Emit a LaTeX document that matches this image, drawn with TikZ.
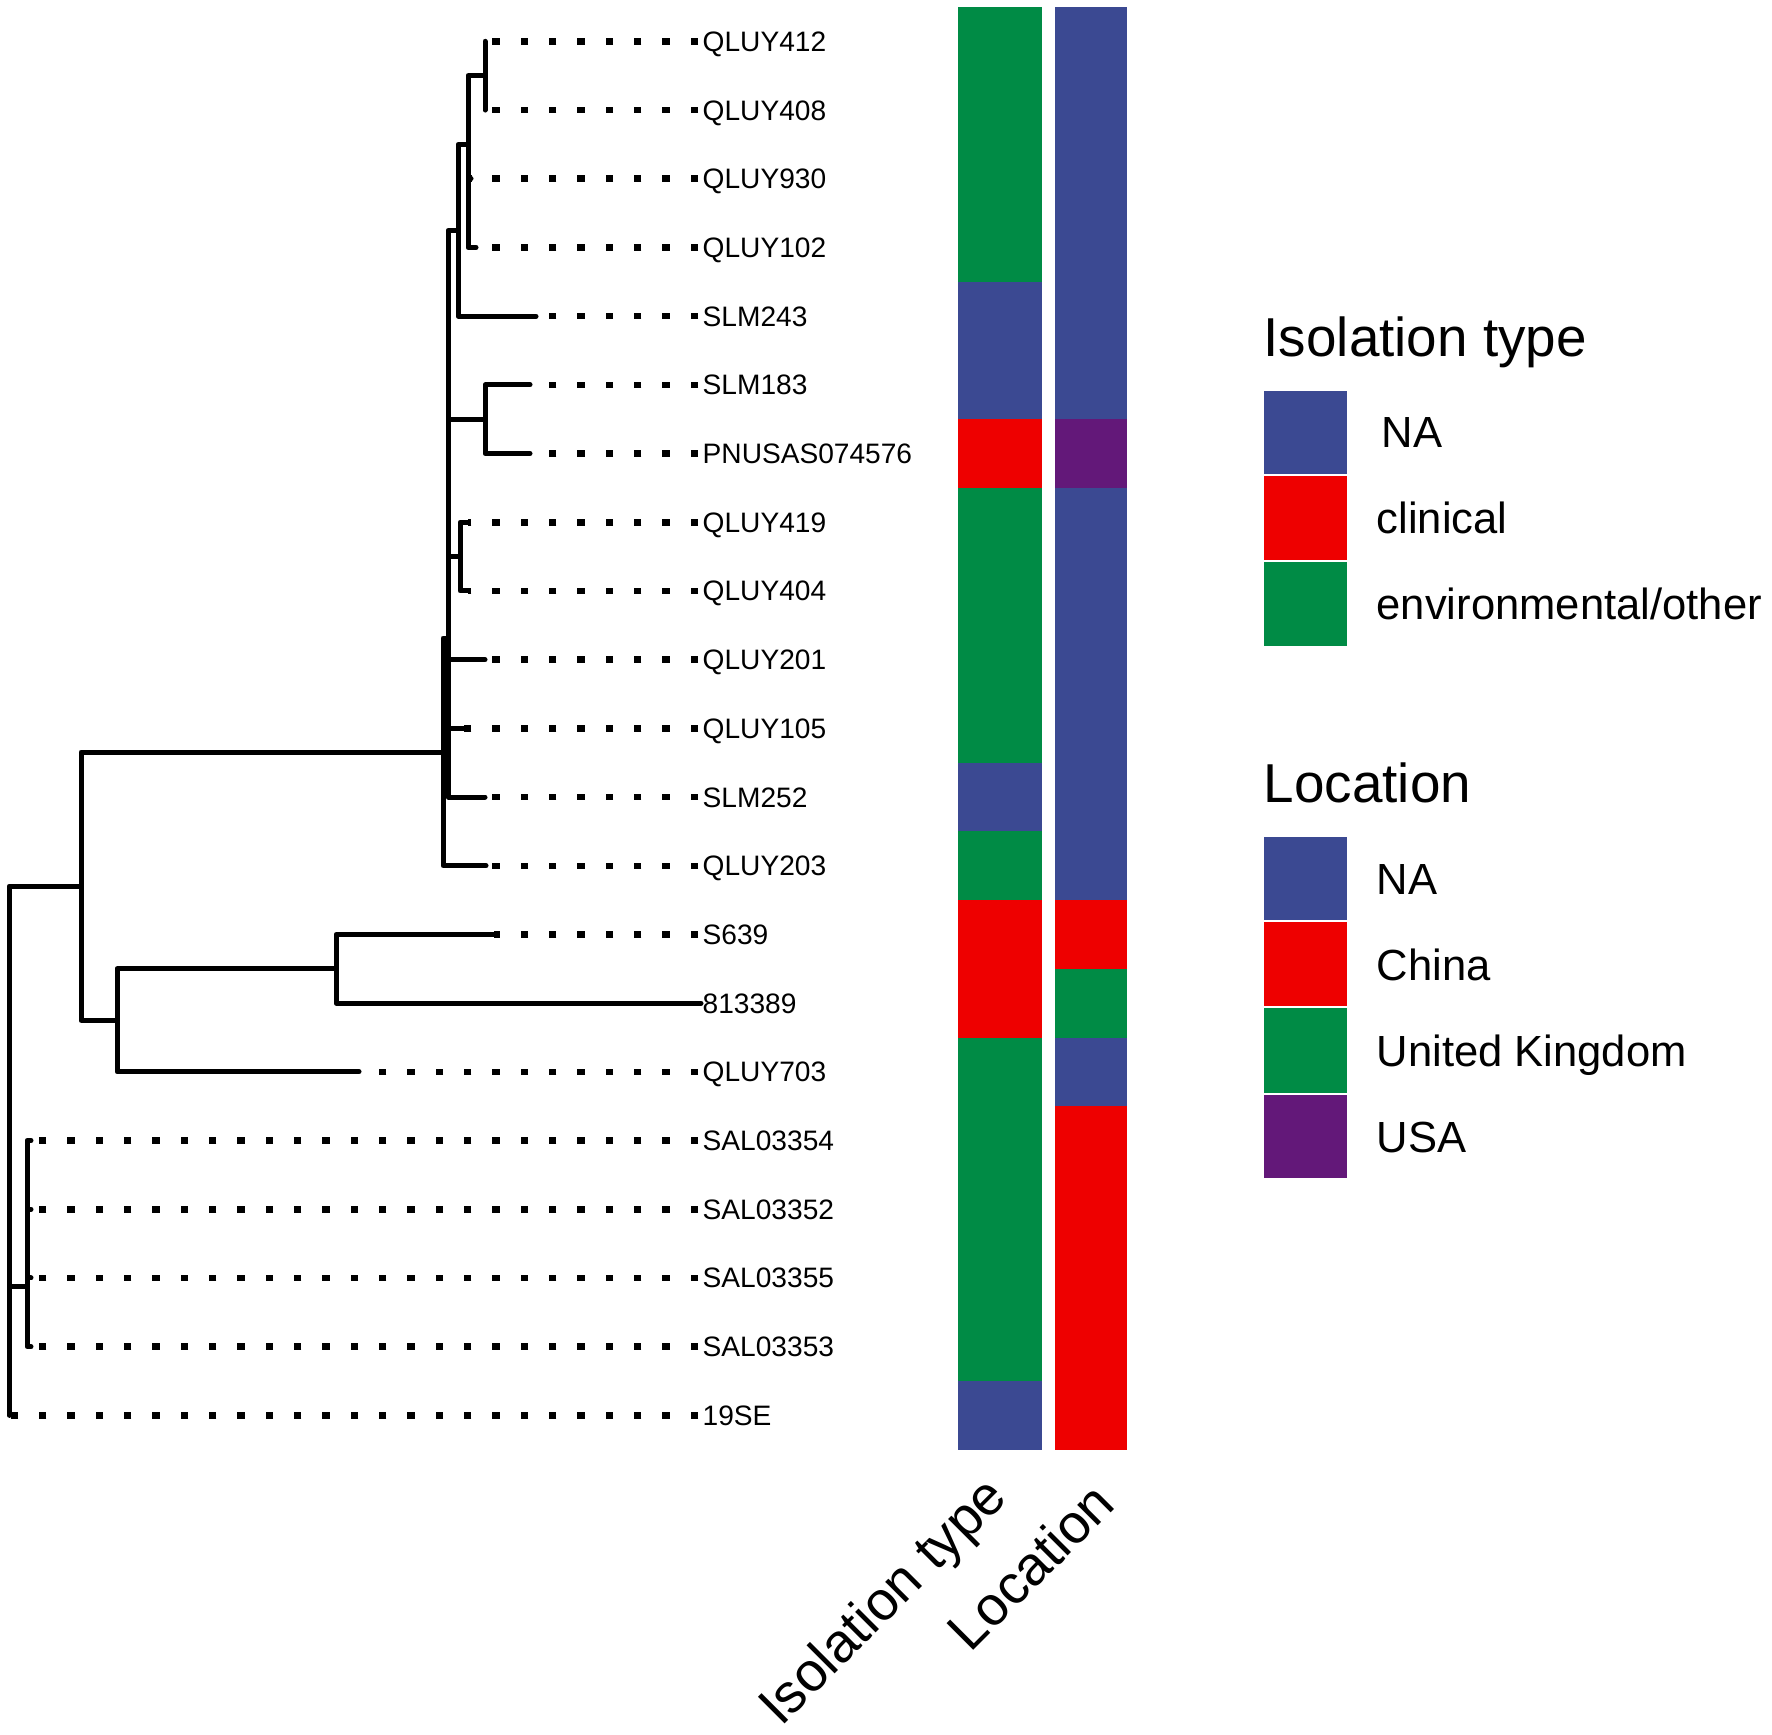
\documentclass[tikz,border=0pt]{standalone}
\usepackage{fontspec}
\setmainfont{Liberation Sans}
\usepackage{tikz}
\definecolor{aaasblue}{HTML}{3B4992}
\definecolor{aaasred}{HTML}{EE0000}
\definecolor{aaasgreen}{HTML}{008B45}
\definecolor{aaaspurple}{HTML}{631879}

\tikzset{
    branch/.style={line width=0.5mm,line cap=round,line join=round},
    guide/.style={line width=0.65mm,dash pattern=on 0.75mm off 2.083mm},
    tiplab/.style={anchor=base west,inner sep=0pt,font=\fontsize{8}{9.6}\selectfont},
    legtitle/.style={anchor=base west,inner sep=0pt,font=\fontsize{15.6}{18}\selectfont},
    leglab/.style={anchor=base west,inner sep=0pt,font=\fontsize{12.4}{15}\selectfont},
    legkey/.style={draw=white,line width=0.2mm},
    collab/.style={anchor=base east,inner sep=0pt,rotate=45,font=\fontsize{15.6}{18}\selectfont}
}

\begin{document}
\begin{tikzpicture}[x=0.1mm,y=-0.1mm]
        \useasboundingbox (0,0) rectangle (1772,1734);

        \coordinate (t1) at (485,41.35);
        \coordinate (t2) at (485,110.05);
        \coordinate (t3) at (471,178.75);
        \coordinate (t4) at (476,247.45);
        \coordinate (t5) at (536,316.15);
        \coordinate (t6) at (530,384.85);
        \coordinate (t7) at (530,453.55);
        \coordinate (t8) at (468,522.25);
        \coordinate (t9) at (468,590.95);
        \coordinate (t10) at (485,659.65);
        \coordinate (t11) at (464,728.35);
        \coordinate (t12) at (485,797.05);
        \coordinate (t13) at (486,865.75);
        \coordinate (t14) at (494,934.45);
        \coordinate (t15) at (701,1003.15);
        \coordinate (t16) at (359,1071.85);
        \coordinate (t17) at (31,1140.55);
        \coordinate (t18) at (31,1209.25);
        \coordinate (t19) at (31,1277.95);
        \coordinate (t20) at (31,1346.65);
        \coordinate (t21) at (9,1415.35);

        \coordinate (nE) at (485,75.7);
        \coordinate (nF) at (468,144.4);
        \coordinate (nH) at (458,230.3);
        \coordinate (nJ) at (485,419.2);
        \coordinate (nK) at (460,556.6);
        \coordinate (nB2) at (448,638);
        \coordinate (nB) at (443,752);
        \coordinate (nD) at (336,968.8);
        \coordinate (nC) at (117,1020.3);
        \coordinate (nA) at (81,886.2);
        \coordinate (nS) at (27,1286.5);
        \coordinate (nR) at (9,1118);

        \draw[guide] (698,41.35) -- (t1);
        \draw[guide] (698,110.05) -- (t2);
        \draw[guide] (698,178.75) -- (t3);
        \draw[guide] (698,247.45) -- (t4);
        \draw[guide] (698,316.15) -- (t5);
        \draw[guide] (698,384.85) -- (t6);
        \draw[guide] (698,453.55) -- (t7);
        \draw[guide] (698,522.25) -- (t8);
        \draw[guide] (698,590.95) -- (t9);
        \draw[guide] (698,659.65) -- (t10);
        \draw[guide] (698,728.35) -- (t11);
        \draw[guide] (698,797.05) -- (t12);
        \draw[guide] (698,865.75) -- (t13);
        \draw[guide] (698,934.45) -- (t14);
        \draw[guide] (698,1071.85) -- (t16);
        \draw[guide] (698,1140.55) -- (t17);
        \draw[guide] (698,1209.25) -- (t18);
        \draw[guide] (698,1277.95) -- (t19);
        \draw[guide] (698,1346.65) -- (t20);
        \draw[guide] (698,1415.35) -- (t21);

        \draw[branch] (nE) |- (t1);
        \draw[branch] (nE) |- (t2);
        \draw[branch] (nF) |- (nE);
        \draw[branch] (nF) |- (t3);
        \draw[branch] (nF) |- (t4);
        \draw[branch] (nH) |- (nF);
        \draw[branch] (nH) |- (t5);
        \draw[branch] (nJ) |- (t6);
        \draw[branch] (nJ) |- (t7);
        \draw[branch] (nK) |- (t8);
        \draw[branch] (nK) |- (t9);
        \draw[branch] (nB2) |- (nH);
        \draw[branch] (nB2) |- (nJ);
        \draw[branch] (nB2) |- (nK);
        \draw[branch] (nB2) |- (t10);
        \draw[branch] (nB2) |- (t11);
        \draw[branch] (nB2) |- (t12);
        \draw[branch] (nB) |- (nB2);
        \draw[branch] (nB) |- (t13);
        \draw[branch] (nD) |- (t14);
        \draw[branch] (nD) |- (t15);
        \draw[branch] (nC) |- (nD);
        \draw[branch] (nC) |- (t16);
        \draw[branch] (nA) |- (nB);
        \draw[branch] (nA) |- (nC);
        \draw[branch] (nS) |- (t17);
        \draw[branch] (nS) |- (t18);
        \draw[branch] (nS) |- (t19);
        \draw[branch] (nS) |- (t20);
        \draw[branch] (nR) |- (nA);
        \draw[branch] (nR) |- (nS);
        \draw[branch] (nR) |- (t21);

        \node[tiplab] (l1) at (702,51.35) {QLUY412};
        \node[tiplab] (l2) at (702,120.05) {QLUY408};
        \node[tiplab] (l3) at (702,188.75) {QLUY930};
        \node[tiplab] (l4) at (702,257.45) {QLUY102};
        \node[tiplab] (l5) at (702,326.15) {SLM243};
        \node[tiplab] (l6) at (702,394.85) {SLM183};
        \node[tiplab] (l7) at (702,463.55) {PNUSAS074576};
        \node[tiplab] (l8) at (702,532.25) {QLUY419};
        \node[tiplab] (l9) at (702,600.95) {QLUY404};
        \node[tiplab] (l10) at (702,669.65) {QLUY201};
        \node[tiplab] (l11) at (702,738.35) {QLUY105};
        \node[tiplab] (l12) at (702,807.05) {SLM252};
        \node[tiplab] (l13) at (702,875.75) {QLUY203};
        \node[tiplab] (l14) at (702,944.45) {S639};
        \node[tiplab] (l15) at (702,1013.15) {813389};
        \node[tiplab] (l16) at (702,1081.85) {QLUY703};
        \node[tiplab] (l17) at (702,1150.55) {SAL03354};
        \node[tiplab] (l18) at (702,1219.25) {SAL03352};
        \node[tiplab] (l19) at (702,1287.95) {SAL03355};
        \node[tiplab] (l20) at (702,1356.65) {SAL03353};
        \node[tiplab] (l21) at (702,1425.35) {19SE};

        \foreach \c [count=\i] in {aaasgreen,aaasgreen,aaasgreen,aaasgreen,aaasblue,aaasblue,aaasred,
            aaasgreen,aaasgreen,aaasgreen,aaasgreen,aaasblue,aaasgreen,aaasred,aaasred,
            aaasgreen,aaasgreen,aaasgreen,aaasgreen,aaasgreen,aaasblue}
            \fill[\c] (958,{7+68.7*(\i-1)}) rectangle (1042,{7+68.7*\i});
        \foreach \c [count=\i] in {aaasblue,aaasblue,aaasblue,aaasblue,aaasblue,aaasblue,aaaspurple,
            aaasblue,aaasblue,aaasblue,aaasblue,aaasblue,aaasblue,aaasred,aaasgreen,
            aaasblue,aaasred,aaasred,aaasred,aaasred,aaasred}
            \fill[\c] (1055,{7+68.7*(\i-1)}) rectangle (1127,{7+68.7*\i});

        \node[collab] (cIso) at (1010,1499) {Isolation type};
        \node[collab] (cLoc) at (1118,1506) {Location};

        \node[legtitle] (gIso) at (1263,357) {Isolation type};
        \fill[aaasblue,legkey] (1263,390) rectangle (1348,475);
        \fill[aaasred,legkey] (1263,475) rectangle (1348,561);
        \fill[aaasgreen,legkey] (1263,561) rectangle (1348,647);
        \node[leglab] (kNA) at (1381,447.5) {NA};
        \node[leglab] (kClin) at (1376,533) {clinical};
        \node[leglab] (kEnv) at (1376,619) {environmental/other};

        \node[legtitle] (gLoc) at (1263,802) {Location};
        \fill[aaasblue,legkey] (1263,836) rectangle (1348,921);
        \fill[aaasred,legkey] (1263,921) rectangle (1348,1007);
        \fill[aaasgreen,legkey] (1263,1007) rectangle (1348,1094);
        \fill[aaaspurple,legkey] (1263,1094) rectangle (1348,1179);
        \node[leglab] (kLNA) at (1376,894) {NA};
        \node[leglab] (kChina) at (1376,980) {China};
        \node[leglab] (kUK) at (1376,1066) {United Kingdom};
        \node[leglab] (kUSA) at (1376,1152) {USA};
    \end{tikzpicture}
\end{document}
